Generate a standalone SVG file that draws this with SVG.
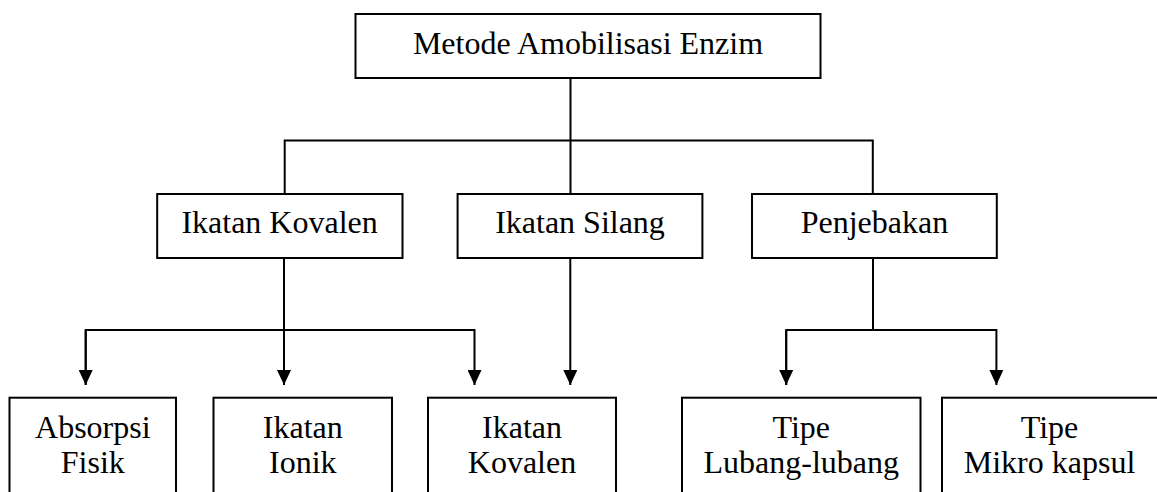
<svg xmlns="http://www.w3.org/2000/svg" width="1157" height="492" viewBox="0 0 1157 492">
<style>
.box{fill:#fff;stroke:#000;stroke-width:2}
.lbl{font-family:"Liberation Serif","Times New Roman",serif;font-size:32px;fill:#000;text-anchor:middle}
.ln{fill:none;stroke:#000;stroke-width:2}
</style>
<defs>
<marker id="ah" markerUnits="userSpaceOnUse" markerWidth="15" markerHeight="14" refX="15" refY="7" orient="auto">
<path d="M0,0 L15,7 L0,14 z" fill="#000"/>
</marker>
</defs>
<rect width="1157" height="492" fill="#fff"/>
<g id="connectors">
<path class="ln" d="M570.5,78 V194"/>
<path class="ln" d="M284.7,194 V140.5 H872.8 V194"/>
<path class="ln" d="M284,258 V385" marker-end="url(#ah)"/>
<path class="ln" d="M85.7,385 V330 H474.5 V385" marker-end="url(#ah)"/>
<path class="ln" d="M85.7,330 V385" marker-end="url(#ah)"/>
<path class="ln" d="M570.3,258 V385" marker-end="url(#ah)"/>
<path class="ln" d="M873,258 V330"/>
<path class="ln" d="M786.2,385 V330 H996.4 V385" marker-end="url(#ah)"/>
<path class="ln" d="M786.2,330 V385" marker-end="url(#ah)"/>
</g>
<g id="n-root">
<rect class="box" x="355.5" y="14" width="465" height="64"/>
<text class="lbl" x="588" y="54">Metode Amobilisasi Enzim</text>
</g>
<g id="n-kovalen">
<rect class="box" x="157.2" y="194" width="245.3" height="64"/>
<text class="lbl" x="279.6" y="233">Ikatan Kovalen</text>
</g>
<g id="n-silang">
<rect class="box" x="457.6" y="194" width="244.8" height="64"/>
<text class="lbl" x="580" y="233">Ikatan Silang</text>
</g>
<g id="n-penjebakan">
<rect class="box" x="752" y="194" width="244.8" height="64"/>
<text class="lbl" x="874.4" y="233">Penjebakan</text>
</g>
<g id="n-absorpsi">
<rect class="box" x="9.5" y="397.7" width="166.5" height="120"/>
<text class="lbl" x="92.8" y="438">Absorpsi</text>
<text class="lbl" x="92.8" y="473">Fisik</text>
</g>
<g id="n-ionik">
<rect class="box" x="213.5" y="397.7" width="178.5" height="120"/>
<text class="lbl" x="302.8" y="438">Ikatan</text>
<text class="lbl" x="302.8" y="473">Ionik</text>
</g>
<g id="n-kovalen2">
<rect class="box" x="428" y="397.7" width="188" height="120"/>
<text class="lbl" x="522" y="438">Ikatan</text>
<text class="lbl" x="522" y="473">Kovalen</text>
</g>
<g id="n-lubang">
<rect class="box" x="682" y="397.7" width="238.5" height="120"/>
<text class="lbl" x="801.3" y="438">Tipe</text>
<text class="lbl" x="801.3" y="473">Lubang-lubang</text>
</g>
<g id="n-mikro">
<rect class="box" x="942" y="397.7" width="216" height="120"/>
<text class="lbl" x="1049.5" y="438">Tipe</text>
<text class="lbl" x="1049.5" y="473">Mikro kapsul</text>
</g>
</svg>
